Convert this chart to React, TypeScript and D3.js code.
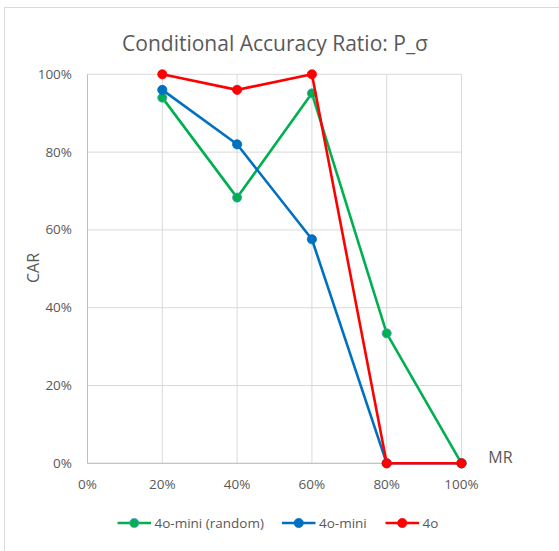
import React from "react";
import * as d3 from "d3";

const mrValues = [0.2, 0.4, 0.6, 0.8, 1.0];
const randomMini = [0.94, 0.683, 0.951, 0.334, 0];
const mini = [0.96, 0.82, 0.576, 0, 0];
const gpt4o = [1.0, 0.96, 1.0, 0, 0];
const xTicks = [0, 0.2, 0.4, 0.6, 0.8, 1.0];
const yTicks = [0, 0.2, 0.4, 0.6, 0.8, 1.0];
const seriesNames = ["4o-mini (random)", "4o-mini", "4o"];
const seriesColors = ["#00B050", "#0070C0", "#FF0000"];

const W = 559;
const H = 551;
const FONT = "'Open Sans', 'Liberation Sans', sans-serif";

export default function App() {
  const x = d3.scaleLinear().domain([0, 1]).range([87.5, 461.5]);
  const y = d3.scaleLinear().domain([0, 1]).range([463.3, 74.3]);
  const fmt = d3.format(".0%");
  const line = d3
    .line<[number, number]>()
    .x((d) => x(d[0]))
    .y((d) => y(d[1]));
  const series = [randomMini, mini, gpt4o];
  const legendX = [117.5, 282, 385.5];

  return (
    <svg
      width={W}
      height={H}
      style={{ position: "absolute", left: 0, top: 0, background: "#fff" }}
      fontFamily={FONT}
    >
      <rect x={4.5} y={7.5} width={W} height={H} fill="#fff" stroke="#d9d9d9" strokeWidth={1} />
      <text x={275} y={51} textAnchor="middle" fontSize={21} fill="#595959">
        Conditional Accuracy Ratio: P_σ
      </text>
      {/* gridlines */}
      {yTicks.map((t) => (
        <line key={"gy" + t} x1={x(0)} x2={x(1)} y1={y(t)} y2={y(t)} stroke="#d9d9d9" strokeWidth={1} />
      ))}
      {xTicks.map((t) => (
        <line key={"gx" + t} x1={x(t)} x2={x(t)} y1={y(0)} y2={y(1)} stroke="#d9d9d9" strokeWidth={1} />
      ))}
      <line x1={x(0)} x2={x(0)} y1={y(0)} y2={y(1)} stroke="#bfbfbf" strokeWidth={1} />
      <line x1={x(0)} x2={x(1)} y1={y(0)} y2={y(0)} stroke="#bfbfbf" strokeWidth={1} />
      {/* y tick labels */}
      {yTicks.map((t) => (
        <text key={"ly" + t} x={72} y={y(t) + 4.5} textAnchor="end" fontSize={13.5} fill="#595959">
          {fmt(t)}
        </text>
      ))}
      {xTicks.map((t) => (
        <text key={"lx" + t} x={x(t)} y={489} textAnchor="middle" fontSize={13.5} fill="#595959">
          {fmt(t)}
        </text>
      ))}
      <text
        transform={`translate(39,268) rotate(-90)`}
        textAnchor="middle"
        fontSize={16}
        fill="#595959"
      >
        CAR
      </text>
      <text x={500.5} y={463} textAnchor="middle" fontSize={16} fill="#595959">
        MR
      </text>
      {/* series */}
      {series.map((vals, i) => {
        const pts = mrValues.map((m, j) => [m, vals[j]] as [number, number]);
        return (
          <g key={"s" + i}>
            <path d={line(pts) || ""} fill="none" stroke={seriesColors[i]} strokeWidth={2.6} strokeLinejoin="round" />
            {pts.map((p, j) => (
              <circle
                key={j}
                cx={x(p[0])}
                cy={y(p[1])}
                r={4.6}
                fill={seriesColors[i]}
                stroke={i === 0 ? "#5B9BD5" : seriesColors[i]}
                strokeWidth={0.8}
              />
            ))}
          </g>
        );
      })}
      {/* legend */}
      {seriesNames.map((name, i) => (
        <g key={"lg" + i}>
          <line x1={legendX[i]} x2={legendX[i] + 33.5} y1={523} y2={523} stroke={seriesColors[i]} strokeWidth={2.6} />
          <circle
            cx={legendX[i] + 16.75}
            cy={523}
            r={4.6}
            fill={seriesColors[i]}
            stroke={i === 0 ? "#5B9BD5" : seriesColors[i]}
            strokeWidth={0.8}
          />
          <text x={legendX[i] + 37} y={527.5} fontSize={13.5} fill="#595959">
            {name}
          </text>
        </g>
      ))}
    </svg>
  );
}
